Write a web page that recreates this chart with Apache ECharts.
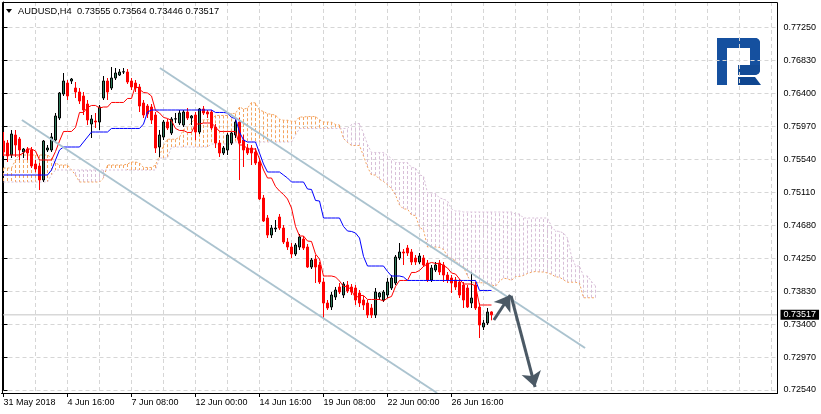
<!DOCTYPE html>
<html><head><meta charset="utf-8">
<script src="https://cdn.jsdelivr.net/npm/echarts@6/dist/echarts.min.js"></script>
<style>html,body{margin:0;padding:0;background:#fff}#c{width:821px;height:414px}</style>
</head><body><div id="c"></div><script>
// ---------- data ----------
const symbolTitle = 'AUDUSD,H4';
const lastOHLC = [0.73555, 0.73564, 0.73446, 0.73517];
const yTickLabels = ['0.72540','0.72970','0.73400','0.73830','0.74250','0.74680','0.75110','0.75540','0.75970','0.76400','0.76830','0.77250'];
const xTickLabels = ['31 May 2018','4 Jun 16:00','7 Jun 08:00','12 Jun 00:00','14 Jun 16:00','19 Jun 08:00','22 Jun 00:00','26 Jun 16:00'];

const opens = [
0.75777,0.75751,0.75595,0.75855,0.75803,0.75634,0.75673,0.75660,0.75478,0.75452,
0.75270,0.75660,0.75660,0.75790,0.76076,0.76388,0.76531,0.76557,0.76466,0.76414,
0.76362,0.76258,0.75998,0.76037,0.76024,0.76336,0.76557,0.76466,0.76596,0.76635,
0.76674,0.76674,0.76557,0.76531,0.76479,0.76271,0.76232,0.76219,0.76115,0.75699,
0.75829,0.76024,0.75881,0.76063,0.76011,0.75985,0.76154,0.76076,0.76115,0.75894,
0.76193,0.76154,0.76154,0.75959,0.75751,0.75621,0.75660,0.75751,0.75855,0.76024,
0.75790,0.75686,0.75686,0.75634,0.75504,0.75036,0.74776,0.74555,0.74633,0.74789,
0.74646,0.74464,0.74399,0.74308,0.74399,0.74503,0.74399,0.74139,0.74243,0.74165,
0.73944,0.73671,0.73619,0.73749,0.73879,0.73775,0.73905,0.73879,0.73866,0.73801,
0.73710,0.73671,0.73606,0.73515,0.73749,0.73710,0.73775,0.73866,0.73931,0.74256,
0.74334,0.74386,0.74334,0.74256,0.74204,0.74256,0.74191,0.73970,0.74100,0.74191,
0.74165,0.74035,0.73996,0.73970,0.73944,0.73905,0.73866,0.73671,0.73905,0.73619,
0.73359,0.73411,0.73555];
const highs = [
0.75894,0.75790,0.75920,0.75920,0.75829,0.75686,0.75699,0.75699,0.75530,0.75491,
0.75790,0.75725,0.75881,0.76141,0.76414,0.76661,0.76570,0.76596,0.76544,0.76466,
0.76414,0.76310,0.76115,0.76141,0.76245,0.76622,0.76596,0.76739,0.76726,0.76713,
0.76726,0.76713,0.76596,0.76570,0.76518,0.76310,0.76258,0.76258,0.76154,0.75920,
0.76050,0.76063,0.76089,0.76141,0.76180,0.76180,0.76206,0.76115,0.76154,0.76206,
0.76232,0.76180,0.76180,0.75998,0.75790,0.75712,0.75881,0.75894,0.76050,0.76076,
0.75855,0.75738,0.75725,0.75686,0.75556,0.75075,0.74815,0.74685,0.74750,0.74828,
0.74685,0.74516,0.74451,0.74451,0.74568,0.74542,0.74438,0.74256,0.74295,0.74204,
0.73996,0.73710,0.73814,0.73879,0.73931,0.73944,0.73957,0.73918,0.73905,0.73840,
0.73762,0.73710,0.73658,0.73866,0.73814,0.73840,0.73996,0.74035,0.74295,0.74451,
0.74373,0.74425,0.74373,0.74295,0.74321,0.74295,0.74230,0.74165,0.74204,0.74230,
0.74204,0.74074,0.74035,0.74009,0.73983,0.73944,0.73905,0.74074,0.73944,0.73671,
0.73450,0.73606,0.73564];
const lows = [
0.75582,0.75504,0.75556,0.75569,0.75530,0.75556,0.75530,0.75426,0.75374,0.75140,
0.75244,0.75634,0.75634,0.75764,0.76050,0.76362,0.76310,0.76518,0.76336,0.76258,
0.76115,0.75985,0.75816,0.75946,0.75920,0.76310,0.76310,0.76440,0.76570,0.76622,
0.76648,0.76518,0.76440,0.76414,0.76154,0.76076,0.76076,0.75998,0.75621,0.75569,
0.75790,0.75920,0.75855,0.76011,0.75985,0.75959,0.76050,0.75985,0.75790,0.75868,
0.76115,0.76076,0.75920,0.75686,0.75569,0.75595,0.75595,0.75725,0.75816,0.75270,
0.75439,0.75595,0.75465,0.75465,0.75010,0.74724,0.74516,0.74516,0.74594,0.74620,
0.74438,0.74360,0.74256,0.74282,0.74360,0.74360,0.74126,0.74113,0.73931,0.73918,
0.73476,0.73580,0.73580,0.73710,0.73788,0.73736,0.73801,0.73775,0.73645,0.73619,
0.73580,0.73476,0.73476,0.73476,0.73710,0.73684,0.73736,0.73840,0.73905,0.74230,
0.74165,0.74282,0.74165,0.74165,0.74178,0.74139,0.73944,0.73944,0.74074,0.74035,
0.73944,0.73931,0.73801,0.73840,0.73736,0.73606,0.73606,0.73606,0.73580,0.73216,
0.73320,0.73385,0.73446];
const closes = [
0.75634,0.75582,0.75868,0.75725,0.75660,0.75673,0.75621,0.75452,0.75413,0.75270,
0.75777,0.75686,0.75829,0.76102,0.76401,0.76557,0.76362,0.76583,0.76414,0.76297,
0.76180,0.76050,0.76063,0.76024,0.76219,0.76557,0.76414,0.76596,0.76661,0.76674,
0.76677,0.76544,0.76479,0.76466,0.76232,0.76115,0.76128,0.76050,0.75686,0.75855,
0.76024,0.75946,0.76063,0.76066,0.76141,0.76154,0.76076,0.76102,0.75894,0.76193,
0.76141,0.76128,0.75946,0.75751,0.75621,0.75686,0.75855,0.75881,0.76024,0.75751,
0.75660,0.75621,0.75621,0.75491,0.75023,0.74737,0.74555,0.74646,0.74646,0.74646,
0.74464,0.74399,0.74308,0.74425,0.74529,0.74386,0.74139,0.74230,0.74139,0.73944,
0.73671,0.73606,0.73775,0.73840,0.73814,0.73918,0.73827,0.73814,0.73710,0.73671,
0.73645,0.73515,0.73515,0.73814,0.73801,0.73814,0.73944,0.73996,0.74269,0.74334,
0.74321,0.74321,0.74204,0.74204,0.74282,0.74165,0.73970,0.74126,0.74165,0.74074,
0.74035,0.73970,0.73931,0.73879,0.73775,0.73710,0.73619,0.73736,0.73606,0.73385,
0.73411,0.73554,0.73517];

const tenkan = [
0.75595,0.75595,0.75595,0.75595,0.75595,0.75621,0.75673,0.75673,0.75647,0.75530,
0.75530,0.75530,0.75530,0.75640,0.75777,0.75901,0.75901,0.75901,0.75952,0.76148,
0.76148,0.76213,0.76239,0.76239,0.76206,0.76219,0.76219,0.76278,0.76278,0.76278,
0.76278,0.76330,0.76330,0.76499,0.76447,0.76408,0.76401,0.76362,0.76174,0.76141,
0.76083,0.76070,0.76044,0.75940,0.75914,0.75914,0.75888,0.75888,0.75998,0.75998,
0.76011,0.76011,0.76011,0.75959,0.75901,0.75901,0.75901,0.75901,0.75901,0.75725,
0.75725,0.75673,0.75673,0.75673,0.75543,0.75400,0.75296,0.75296,0.75186,0.75127,
0.75082,0.75023,0.74906,0.74666,0.74542,0.74542,0.74477,0.74471,0.74308,0.74243,
0.74022,0.74022,0.74022,0.74009,0.73957,0.73886,0.73886,0.73840,0.73736,0.73769,
0.73769,0.73717,0.73717,0.73717,0.73717,0.73697,0.73736,0.73756,0.73886,0.73964,
0.73964,0.73964,0.74068,0.74068,0.74094,0.74146,0.74178,0.74198,0.74185,0.74185,
0.74159,0.74126,0.74061,0.74048,0.73983,0.73918,0.73918,0.73918,0.73892,0.73645,
0.73645,0.73645,0.73645];
const kijun = [
0.75335,0.75335,0.75335,0.75335,0.75335,0.75335,0.75335,0.75335,0.75335,0.75335,
0.75335,0.75335,0.75400,0.75530,0.75660,0.75699,0.75699,0.75699,0.75699,0.75699,
0.75764,0.75829,0.75894,0.75894,0.75894,0.75894,0.75894,0.75940,0.75940,0.75940,
0.75940,0.75940,0.75940,0.75940,0.75940,0.75998,0.76154,0.76180,0.76180,0.76180,
0.76180,0.76180,0.76180,0.76180,0.76180,0.76180,0.76180,0.76180,0.76180,0.76180,
0.76180,0.76180,0.76180,0.76148,0.76148,0.76148,0.76141,0.76083,0.76070,0.75894,
0.75790,0.75764,0.75764,0.75764,0.75621,0.75478,0.75374,0.75374,0.75374,0.75374,
0.75335,0.75296,0.75244,0.75244,0.75244,0.75244,0.75153,0.75147,0.75004,0.74997,
0.74776,0.74776,0.74776,0.74776,0.74776,0.74666,0.74607,0.74601,0.74581,0.74516,
0.74276,0.74152,0.74152,0.74152,0.74152,0.74152,0.74081,0.74022,0.74022,0.74022,
0.74009,0.73964,0.73964,0.73964,0.73964,0.73964,0.73964,0.73964,0.73964,0.73964,
0.73964,0.73964,0.73964,0.73964,0.73964,0.73964,0.73964,0.73964,0.73964,0.73834,
0.73834,0.73834,0.73834];
const spanA = [
0.75426,0.75426,0.75426,0.75530,0.75595,0.75595,0.75595,0.75595,0.75595,0.75595,
0.75595,0.75595,0.75556,0.75491,0.75465,0.75465,0.75465,0.75400,0.75335,0.75244,
0.75244,0.75244,0.75244,0.75244,0.75244,0.75296,0.75465,0.75465,0.75465,0.75465,
0.75465,0.75478,0.75504,0.75504,0.75491,0.75433,0.75433,0.75433,0.75465,0.75585,
0.75719,0.75800,0.75800,0.75800,0.75826,0.75923,0.75956,0.76021,0.76066,0.76066,
0.76050,0.76057,0.76060,0.76109,0.76109,0.76109,0.76109,0.76135,0.76135,0.76219,
0.76193,0.76203,0.76278,0.76271,0.76177,0.76161,0.76131,0.76125,0.76112,0.76060,
0.76047,0.76047,0.76034,0.76034,0.76089,0.76089,0.76095,0.76095,0.76095,0.76053,
0.76024,0.76024,0.76021,0.75992,0.75985,0.75810,0.75758,0.75719,0.75719,0.75719,
0.75582,0.75439,0.75335,0.75335,0.75280,0.75251,0.75208,0.75160,0.75075,0.74945,
0.74893,0.74893,0.74815,0.74809,0.74656,0.74620,0.74399,0.74399,0.74399,0.74393,
0.74367,0.74276,0.74246,0.74220,0.74159,0.74142,0.74022,0.73934,0.73934,0.73934,
0.73934,0.73925,0.73908,0.73889,0.73954,0.73993,0.73986,0.73964,0.74016,0.74016,
0.74029,0.74055,0.74071,0.74081,0.74074,0.74074,0.74061,0.74045,0.74012,0.74006,
0.73973,0.73941,0.73941,0.73941,0.73928,0.73739,0.73739,0.73739,0.73739];
const spanB = [
0.75244,0.75244,0.75244,0.75244,0.75244,0.75244,0.75244,0.75244,0.75244,0.75244,
0.75244,0.75244,0.75335,0.75400,0.75400,0.75400,0.75400,0.75400,0.75400,0.75400,
0.75400,0.75400,0.75400,0.75400,0.75400,0.75400,0.75400,0.75400,0.75400,0.75400,
0.75400,0.75400,0.75400,0.75400,0.75400,0.75400,0.75400,0.75400,0.75400,0.75556,
0.75556,0.75556,0.75699,0.75699,0.75699,0.75699,0.75699,0.75699,0.75699,0.75699,
0.75699,0.75699,0.75738,0.75738,0.75738,0.75738,0.75738,0.75738,0.75764,0.75764,
0.75764,0.75764,0.75764,0.75764,0.75764,0.75764,0.75764,0.75764,0.75764,0.75764,
0.75764,0.75764,0.75764,0.75855,0.75940,0.75940,0.75940,0.75940,0.75940,0.75940,
0.75940,0.75940,0.75940,0.75940,0.75940,0.75940,0.75940,0.75992,0.76005,0.76005,
0.75875,0.75732,0.75628,0.75628,0.75628,0.75628,0.75589,0.75550,0.75498,0.75498,
0.75498,0.75498,0.75433,0.75426,0.75335,0.75322,0.75101,0.75101,0.75095,0.75036,
0.75023,0.74997,0.74893,0.74867,0.74867,0.74854,0.74854,0.74854,0.74854,0.74854,
0.74854,0.74854,0.74854,0.74854,0.74854,0.74854,0.74854,0.74854,0.74828,0.74828,
0.74776,0.74776,0.74776,0.74776,0.74776,0.74776,0.74776,0.74666,0.74607,0.74601,
0.74581,0.74516,0.74276,0.74152,0.74152,0.74022,0.74022,0.73951,0.73892];

// trend channel and forecast arrows: [bar index, price]
const channelUpper = [[39.1, 0.76726], [145.4, 0.73086]];
const channelLower = [[4.6, 0.76050], [108.4, 0.72501]];
const arrowUp = [[122.6, 0.73450], [126.7, 0.73775]];
const arrowDown = [[126.9, 0.73762], [132.9, 0.72579]];

// ---------- chart ----------
const NCAT = 194;
function buildCategories(n) {
  const out = []; let t = Date.UTC(2018, 4, 31, 0, 0);
  while (out.length < n) {
    const d = new Date(t); const wd = d.getUTCDay();
    if (wd !== 0 && wd !== 6) out.push(d.toISOString().slice(0, 16));
    t += 4 * 3600 * 1000;
  }
  return out;
}
const cats = buildCategories(NCAT);
const yMin = 0.7254, yStep = 0.0471 / 11, yMax = 0.7254 + 388 * 0.00013;
const FONT = '"Liberation Sans", Arial, sans-serif';
const ORANGE = '#f4a460', LILAC = '#d8bfd8';

const candleData = opens.map((o, i) => [o, closes[i], lows[i], highs[i]]);
const hatchData = spanA.map((a, j) => [j, a, spanB[j]]);
const priceLine = [[-0.5, lastOHLC[3]], [NCAT - 0.5, lastOHLC[3]]];
const labelShown = (idx) => idx % 16 === 0 && idx / 16 < xTickLabels.length;

const chart = echarts.init(document.getElementById('c'), null, {renderer: 'canvas'});
chart.setOption({
  animation: false,
  backgroundColor: '#ffffff',
  textStyle: {fontFamily: FONT},
  grid: [
    {left: 1.5, right: 43.5, top: 2, bottom: 24},
    {left: 35.5, right: 49.5, top: 2, bottom: 21}
  ],
  xAxis: [
    {type: 'category', gridIndex: 0, data: cats, boundaryGap: true, offset: 3,
     axisLine: {show: true, lineStyle: {color: '#000', width: 1}},
     axisTick: {show: true, alignWithLabel: true, interval: labelShown, length: 4, lineStyle: {color: '#000'}},
     axisLabel: {show: true, interval: labelShown, align: 'left', margin: 5, fontSize: 9, color: '#000', fontFamily: FONT,
                 formatter: (v, idx) => xTickLabels[idx / 16] || ''},
     splitLine: {show: false}},
    {type: 'value', gridIndex: 1, min: 0, max: 23, interval: 1,
     axisLine: {show: false}, axisTick: {show: false}, axisLabel: {show: false},
     splitLine: {show: true, lineStyle: {color: '#d6d6d6', type: [4, 3], width: 1}}},
    {type: 'value', gridIndex: 0, min: -0.5, max: NCAT - 0.5, show: false}
  ],
  yAxis: [
    {type: 'value', gridIndex: 0, position: 'right', min: yMin, max: yMax, interval: yStep,
     axisLine: {show: true, lineStyle: {color: '#000', width: 1}},
     axisTick: {show: true, length: 4, lineStyle: {color: '#000'}},
     axisLabel: {show: true, margin: 6, fontSize: 9, color: '#000', fontFamily: FONT,
                 formatter: (v) => { const k = (v - yMin) / yStep; const r = Math.round(k);
                   return Math.abs(k - r) < 0.01 && yTickLabels[r] ? yTickLabels[r] : ''; }},
     splitLine: {show: true, lineStyle: {color: '#d6d6d6', type: [4, 3], width: 1}}},
    {type: 'value', gridIndex: 1, min: 0, max: 1, show: false}
  ],
  series: [
    {type: 'custom', name: 'cloud', xAxisIndex: 0, yAxisIndex: 0, z: 1, silent: true,
     data: hatchData, encode: {x: 0, y: [1, 2]},
     renderItem: (params, api) => {
       const j = api.value(0), a = api.value(1), b = api.value(2);
       const p1 = api.coord([j, a]), p2 = api.coord([j, b]);
       return {type: 'line', shape: {x1: p1[0], y1: p1[1], x2: p2[0], y2: p2[1]},
               style: {stroke: a >= b ? ORANGE : LILAC, lineWidth: 1, lineDash: [3, 2]}};
     }},
    {type: 'line', name: 'Senkou A', data: spanA, z: 2, symbol: 'none', silent: true,
     lineStyle: {color: ORANGE, width: 1, type: [2, 2]}},
    {type: 'line', name: 'Senkou B', data: spanB, z: 2, symbol: 'none', silent: true,
     lineStyle: {color: LILAC, width: 1, type: [2, 2]}},
    {type: 'line', name: 'Bid', xAxisIndex: 2, yAxisIndex: 0, data: priceLine, z: 2, symbol: 'none', silent: true,
     clip: false, lineStyle: {color: '#c4c4c4', width: 1},
     endLabel: {show: true, distance: 3, formatter: () => lastOHLC[3].toFixed(5),
                backgroundColor: '#000', color: '#fff', padding: [1, 3, 0, 3], fontSize: 9, fontFamily: FONT}},
    {type: 'candlestick', name: 'AUDUSD', data: candleData, z: 3, barWidth: 3,
     itemStyle: {color: '#2f7a5a', color0: '#ff0000', borderColor: '#000000', borderColor0: '#ff0000', borderWidth: 1}},
    {type: 'line', name: 'Tenkan', data: tenkan, z: 4, symbol: 'none', silent: true,
     lineStyle: {color: '#ff0000', width: 1}},
    {type: 'line', name: 'Kijun', data: kijun, z: 4, symbol: 'none', silent: true,
     lineStyle: {color: '#0000ff', width: 1}},
    {type: 'lines', name: 'channel', coordinateSystem: 'cartesian2d', xAxisIndex: 2, yAxisIndex: 0,
     z: 5, silent: true, clip: false,
     data: [{coords: channelUpper}, {coords: channelLower}],
     lineStyle: {color: '#abc3cf', width: 2, opacity: 1}},
    {type: 'lines', name: 'forecast', coordinateSystem: 'cartesian2d', xAxisIndex: 2, yAxisIndex: 0,
     z: 6, silent: true, clip: false, symbol: ['none', 'arrow'], symbolSize: 15,
     data: [{coords: arrowUp}, {coords: arrowDown}],
     lineStyle: {color: '#4b5965', width: 3, opacity: 1}}
  ],
  graphic: [
    {type: 'rect', silent: true, z: 10, shape: {x: 2.5, y: 2.5, width: 775, height: 391},
     style: {fill: null, stroke: '#000', lineWidth: 1}},
    {type: 'polygon', silent: true, z: 10, shape: {points: [[6, 9], [12, 9], [9, 13]]}, style: {fill: '#000'}},
    {type: 'text', silent: true, z: 10, style: {text: symbolTitle + '  ' + lastOHLC.map(v => v.toFixed(5)).join(' '),
      x: 18, y: 11.5, verticalAlign: 'middle', font: '9.3px ' + FONT, fill: '#000'}},
    {type: 'group', silent: true, z: 10, children: [
      {type: 'rect', shape: {x: 717, y: 38, width: 10, height: 47}, style: {fill: '#15509f'}},
      {type: 'rect', shape: {x: 717, y: 38, width: 43, height: 10, r: [0, 5, 0, 0]}, style: {fill: '#15509f'}},
      {type: 'rect', shape: {x: 750, y: 38, width: 10, height: 37, r: [0, 5, 5, 0]}, style: {fill: '#15509f'}},
      {type: 'rect', shape: {x: 738, y: 65, width: 22, height: 10, r: [0, 0, 5, 0]}, style: {fill: '#134b96'}},
      {type: 'polygon', shape: {points: [[738, 77], [755, 77], [761, 85], [738, 85]]}, style: {fill: '#0f4690'}}
    ]}
  ]
});
</script></body></html>
